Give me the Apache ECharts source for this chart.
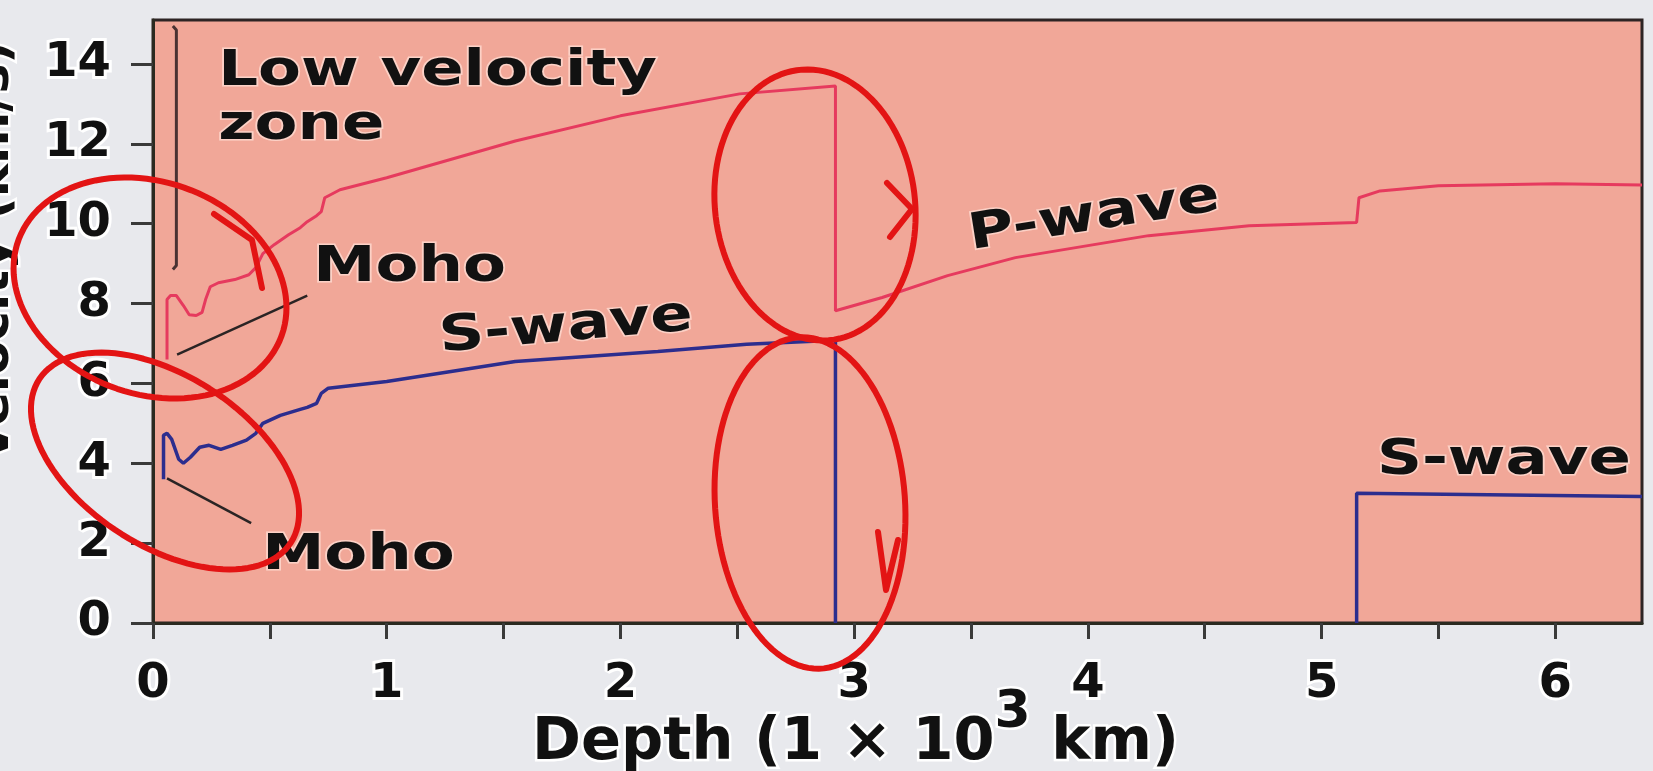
<!DOCTYPE html>
<html>
<head>
<meta charset="utf-8">
<title>Seismic wave velocity vs depth</title>
<script src="https://cdn.jsdelivr.net/npm/echarts@6/dist/echarts.min.js"></script>
<style>
  html, body { margin: 0; padding: 0; background: #e8e9ed; }
  #chart { width: 1653px; height: 771px; }
</style>
</head>
<body>
<div id="chart"></div>
<script>
// ---- axis ticks and labels ----
const xTickValues = [0, 0.5, 1, 1.5, 2, 2.5, 3, 3.5, 4, 4.5, 5, 5.5, 6];
const xTickLabels = [0, 1, 2, 3, 4, 5, 6];
const yTickLabels = [0, 2, 4, 6, 8, 10, 12, 14];
const depthMax = 6.371;   // Earth's radius, 10^3 km
const velocityMax = 15.1;

// ---- P-wave velocity [depth (10^3 km), velocity (km/s)] ----
const pWave = [
  [0.06, 6.6], [0.06, 8.1], [0.075, 8.2], [0.1, 8.2], [0.13, 7.95], [0.155, 7.72],
  [0.185, 7.7], [0.21, 7.78], [0.225, 8.1], [0.245, 8.42], [0.28, 8.52], [0.35, 8.6],
  [0.41, 8.72], [0.44, 8.9], [0.47, 9.25], [0.52, 9.48], [0.58, 9.72], [0.63, 9.9],
  [0.66, 10.05], [0.7, 10.2], [0.72, 10.3], [0.735, 10.65], [0.8, 10.85], [1.0, 11.15],
  [1.55, 12.07], [2.0, 12.7], [2.51, 13.25], [2.92, 13.45],
  [2.92, 7.82], [3.12, 8.15], [3.4, 8.7], [3.69, 9.15], [4.0, 9.45], [4.26, 9.7],
  [4.69, 9.95], [5.15, 10.03], [5.16, 10.65], [5.25, 10.82], [5.5, 10.95], [6.0, 11.0],
  [6.371, 10.97]
];

// ---- S-wave velocity: crust and mantle, dropping to zero in the liquid outer core ----
const sWaveMantle = [
  [0.045, 3.6], [0.045, 4.7], [0.06, 4.75], [0.08, 4.6], [0.11, 4.1], [0.13, 4.0],
  [0.16, 4.15], [0.2, 4.4], [0.24, 4.45], [0.29, 4.35], [0.34, 4.45], [0.4, 4.58],
  [0.44, 4.75], [0.47, 5.0], [0.545, 5.2], [0.63, 5.35], [0.66, 5.4], [0.7, 5.5],
  [0.72, 5.75], [0.75, 5.88], [1.0, 6.05], [1.55, 6.55], [2.16, 6.8], [2.54, 6.98],
  [2.92, 7.08], [2.92, 0]
];
// ---- S-wave velocity in the solid inner core ----
const sWaveInnerCore = [[5.15, 0], [5.15, 3.25], [6.371, 3.17]];

// ---- annotation guides (data units) ----
const lowVelocityBracket = [[0.085, 14.95], [0.1, 14.85], [0.1, 8.95], [0.085, 8.85]];
const mohoLeaderP = [[0.103, 6.72], [0.66, 8.2]];
const mohoLeaderS = [[0.06, 3.62], [0.42, 2.5]];

const FONT = 'DejaVu Sans';

const chart = echarts.init(document.getElementById('chart'), null, { renderer: 'canvas' });

function guide(data, color, width) {
  return {
    type: 'line', data: data, showSymbol: false, silent: true, animation: false,
    lineStyle: { color: color, width: width }, z: 4
  };
}

chart.setOption({
  backgroundColor: '#e8e9ed',
  animation: false,
  grid: {
    left: 153, right: 11, top: 20, bottom: 148,
    show: true, backgroundColor: '#f1a798',
    borderColor: '#2d2424', borderWidth: 3,
    containLabel: false, outerBoundsMode: 'none'
  },
  xAxis: {
    type: 'value', min: 0, max: depthMax,
    name: 'Depth (1 × 10{sup|3} km)',
    nameLocation: 'middle', nameGap: 64, nameMoveOverlap: false,
    nameTextStyle: {
      fontFamily: FONT, fontWeight: 'bold', fontSize: 59, color: '#111',
      lineHeight: 114, padding: [0, 84, 0, 0],
      textBorderColor: '#ffffff', textBorderWidth: 5,
      rich: {
        sup: {
          fontFamily: FONT, fontWeight: 'bold', fontSize: 52, color: '#111',
          lineHeight: 52, verticalAlign: 'top',
          textBorderColor: '#ffffff', textBorderWidth: 5
        }
      }
    },
    axisLine: { show: true, onZero: false, lineStyle: { color: '#2b2a20', width: 3 } },
    axisTick: { show: true, length: 16, customValues: xTickValues, lineStyle: { color: '#3a3a3a', width: 3 } },
    axisLabel: {
      customValues: xTickLabels, margin: 38,
      fontFamily: FONT, fontWeight: 'bold', fontSize: 48, color: '#111',
      textBorderColor: '#ffffff', textBorderWidth: 6
    },
    splitLine: { show: false }
  },
  yAxis: {
    type: 'value', min: 0, max: velocityMax,
    name: 'Velocity (km/s)',
    nameLocation: 'middle', nameGap: 133, nameMoveOverlap: false,
    nameTextStyle: {
      fontFamily: FONT, fontWeight: 'bold', fontSize: 50, color: '#111',
      padding: [0, 0, 0, 140], textBorderColor: '#ffffff', textBorderWidth: 5
    },
    axisLine: { show: true, onZero: false, lineStyle: { color: '#2b2a20', width: 3 } },
    axisTick: { show: true, length: 22, customValues: yTickLabels, lineStyle: { color: '#3a3a3a', width: 3 } },
    axisLabel: {
      customValues: yTickLabels, margin: 42,
      fontFamily: FONT, fontWeight: 'bold', fontSize: 48, color: '#111',
      textBorderColor: '#ffffff', textBorderWidth: 6
    },
    splitLine: { show: false }
  },
  series: [
    {
      name: 'P-wave', type: 'line', data: pWave, showSymbol: false, silent: true,
      lineStyle: { color: '#e63a5e', width: 3 }, z: 5
    },
    {
      name: 'S-wave', type: 'line', data: sWaveMantle, showSymbol: false, silent: true,
      lineStyle: { color: '#2c2d8e', width: 3.5 }, z: 5
    },
    {
      name: 'S-wave', type: 'line', data: sWaveInnerCore, showSymbol: false, silent: true,
      lineStyle: { color: '#2c2d8e', width: 3.5 }, z: 5
    },
    guide(lowVelocityBracket, '#4a3232', 3),
    guide(mohoLeaderP, '#2a2424', 2.5),
    guide(mohoLeaderS, '#2a2424', 2.5)
  ]
});

// ---- text annotations, anchored in data units ----
const annotations = [
  { text: 'Low velocity\nzone', at: [0.279, 13.12], align: 'left', rot: 0 },
  { text: 'Moho', at: [1.098, 8.9], align: 'center', rot: 0 },
  { text: 'S-wave', at: [1.767, 7.4], align: 'center', rot: 5 },
  { text: 'P-wave', at: [4.027, 10.18], align: 'center', rot: 9 },
  { text: 'S-wave', at: [5.78, 4.05], align: 'center', rot: 0 },
  { text: 'Moho', at: [0.879, 1.675], align: 'center', rot: 0 }
];

const graphics = annotations.map(function (a) {
  const p = chart.convertToPixel({ gridIndex: 0 }, a.at);
  return {
    type: 'text', x: p[0], y: p[1], rotation: a.rot * Math.PI / 180,
    scaleX: 1.25, scaleY: 1, z: 20, silent: true,
    style: {
      text: a.text, fill: '#111', font: 'bold 50px "' + FONT + '"',
      align: a.align, verticalAlign: 'middle',
      textAlign: a.align, textVerticalAlign: 'middle',
      lineHeight: 54, stroke: 'rgba(255,220,210,0.8)', lineWidth: 3
    }
  };
});

// ---- hand-drawn red marker loops (screen pixels) ----
function loop(cx, cy, rx, ry, rotDeg) {
  const th = rotDeg * Math.PI / 180;
  const pts = [];
  const n = 120;
  for (let i = 0; i <= n; i++) {
    const t = -0.5 + (2 * Math.PI + 0.35) * i / n;
    const ex = rx * Math.cos(t), ey = ry * Math.sin(t);
    pts.push([cx + ex * Math.cos(th) - ey * Math.sin(th), cy + ex * Math.sin(th) + ey * Math.cos(th)]);
  }
  return pts;
}
const markerStyle = { stroke: '#e31414', lineWidth: 6, fill: null, lineCap: 'round', lineJoin: 'round' };
const markerLoops = [
  loop(150, 288, 140, 106, 20),
  loop(165, 461, 150, 85, 33),
  loop(815, 205, 100, 136, -7),
  loop(810, 503, 95, 166, -4)
];
const markerArrows = [
  [[214, 214], [252, 240], [262, 288]],
  [[887, 183], [912, 209], [890, 237]],
  [[878, 532], [886, 590], [898, 540]]
];
markerLoops.concat(markerArrows).forEach(function (pts) {
  graphics.push({ type: 'polyline', z: 30, silent: true, shape: { points: pts }, style: markerStyle });
});

chart.setOption({ graphic: graphics });
</script>
</body>
</html>
